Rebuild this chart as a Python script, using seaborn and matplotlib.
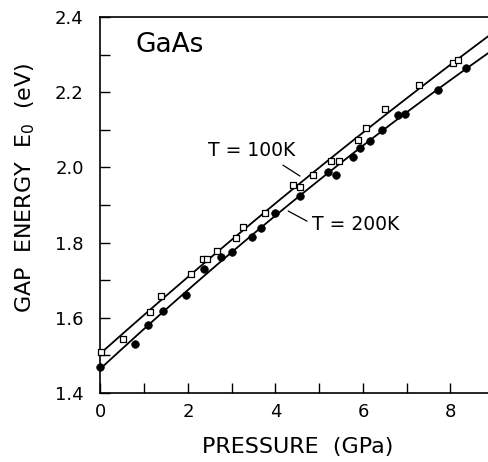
import numpy as np
import pandas as pd
import matplotlib
matplotlib.use("Agg")
import matplotlib.pyplot as plt
import seaborn as sns
from matplotlib.ticker import MultipleLocator

# Band gap E0 of GaAs versus hydrostatic pressure
p_100k = [0.02, 0.51, 1.13, 1.38, 2.07, 2.35, 2.43, 2.66, 3.10, 3.26, 3.76,
          4.41, 4.56, 4.86, 5.26, 5.45, 5.89, 6.07, 6.51, 7.28, 8.06, 8.18]
e_100k = [1.508, 1.543, 1.616, 1.659, 1.716, 1.756, 1.756, 1.778, 1.813, 1.842, 1.880,
          1.952, 1.949, 1.980, 2.018, 2.018, 2.072, 2.106, 2.155, 2.220, 2.278, 2.286]

p_200k = [0.00, 0.79, 1.09, 1.44, 1.95, 2.37, 2.75, 3.00, 3.46, 3.66, 3.99,
          4.56, 5.21, 5.39, 5.77, 5.94, 6.15, 6.44, 6.81, 6.95, 7.71, 8.35]
e_200k = [1.470, 1.530, 1.581, 1.618, 1.661, 1.729, 1.763, 1.776, 1.816, 1.839, 1.880,
          1.924, 1.988, 1.981, 2.028, 2.052, 2.070, 2.099, 2.139, 2.143, 2.207, 2.265]

x_ticks = [0, 2, 4, 6, 8]
y_ticks = [1.4, 1.6, 1.8, 2.0, 2.2, 2.4]

df100 = pd.DataFrame({"P": p_100k, "E": e_100k})
df200 = pd.DataFrame({"P": p_200k, "E": e_200k})

sns.set_style("ticks")
plt.rcParams["font.family"] = ["DejaVu Sans"]
plt.rcParams["mathtext.fontset"] = "dejavusans"
plt.rcParams["text.color"] = "black"
plt.rcParams["axes.labelcolor"] = "black"
plt.rcParams["xtick.color"] = "black"
plt.rcParams["ytick.color"] = "black"

fig = plt.figure(figsize=(4.89, 4.62), dpi=100)
ax = fig.add_axes([100.5 / 489, 69 / 462, 1 - 100.5 / 489, 376 / 462])
ax.set_xlim(0, 8.88)
ax.set_ylim(1.4, 2.4)

# quadratic fits through each temperature series
for d in (df100, df200):
    sns.regplot(data=d, x="P", y="E", order=2, ci=None, scatter=False,
                truncate=False, ax=ax, line_kws=dict(color="black", lw=1.3))

sns.scatterplot(data=df100, x="P", y="E", ax=ax, marker="s", s=24,
                facecolor="white", edgecolor="black", linewidth=0.9,
                zorder=5, clip_on=False)
sns.scatterplot(data=df200, x="P", y="E", ax=ax, marker="o", s=30,
                color="black", edgecolor="black", linewidth=0.5,
                zorder=5, clip_on=False)

ax.set_xlim(0, 8.88)
ax.set_ylim(1.4, 2.4)
ax.set_xticks(x_ticks)
ax.set_yticks(y_ticks)
ax.set_yticklabels([f"{v:.1f}" for v in y_ticks])
ax.set_xticklabels([str(v) for v in x_ticks])
ax.xaxis.set_minor_locator(MultipleLocator(1))
ax.yaxis.set_minor_locator(MultipleLocator(0.1))
ax.tick_params(axis="both", which="both", direction="in", length=7,
               width=1.0, color="black", labelcolor="black")
ax.tick_params(axis="y", which="major", pad=12, labelsize=13)
ax.tick_params(axis="x", which="major", pad=7, labelsize=13)
ax.set_xlabel("")
ax.set_ylabel("")
for side in ("left", "bottom", "top"):
    ax.spines[side].set_linewidth(1.2)
    ax.spines[side].set_color("black")
ax.spines["right"].set_visible(False)

ax.text(0.79, 2.326, "GaAs", fontsize=19, ha="left", va="center", color="black")
ax.text(4.45, 2.044, "T = 100K", fontsize=13.5, ha="right", va="center", color="black")
ax.text(4.83, 1.849, "T = 200K", fontsize=13.5, ha="left", va="center", color="black")
ax.plot([4.17, 4.56], [2.006, 1.977], color="black", lw=0.9)
ax.plot([4.29, 4.72], [1.884, 1.857], color="black", lw=0.9)

fig.text(298 / 489, 1 - 447 / 462, "PRESSURE  (GPa)", fontsize=16,
         ha="center", va="center", color="black")
fig.text(25 / 489, 1 - 188 / 462, "GAP  ENERGY  E$_0$  (eV)", fontsize=16,
         ha="center", va="center", rotation=90, color="black")

fig.savefig("out.png", dpi=100)
